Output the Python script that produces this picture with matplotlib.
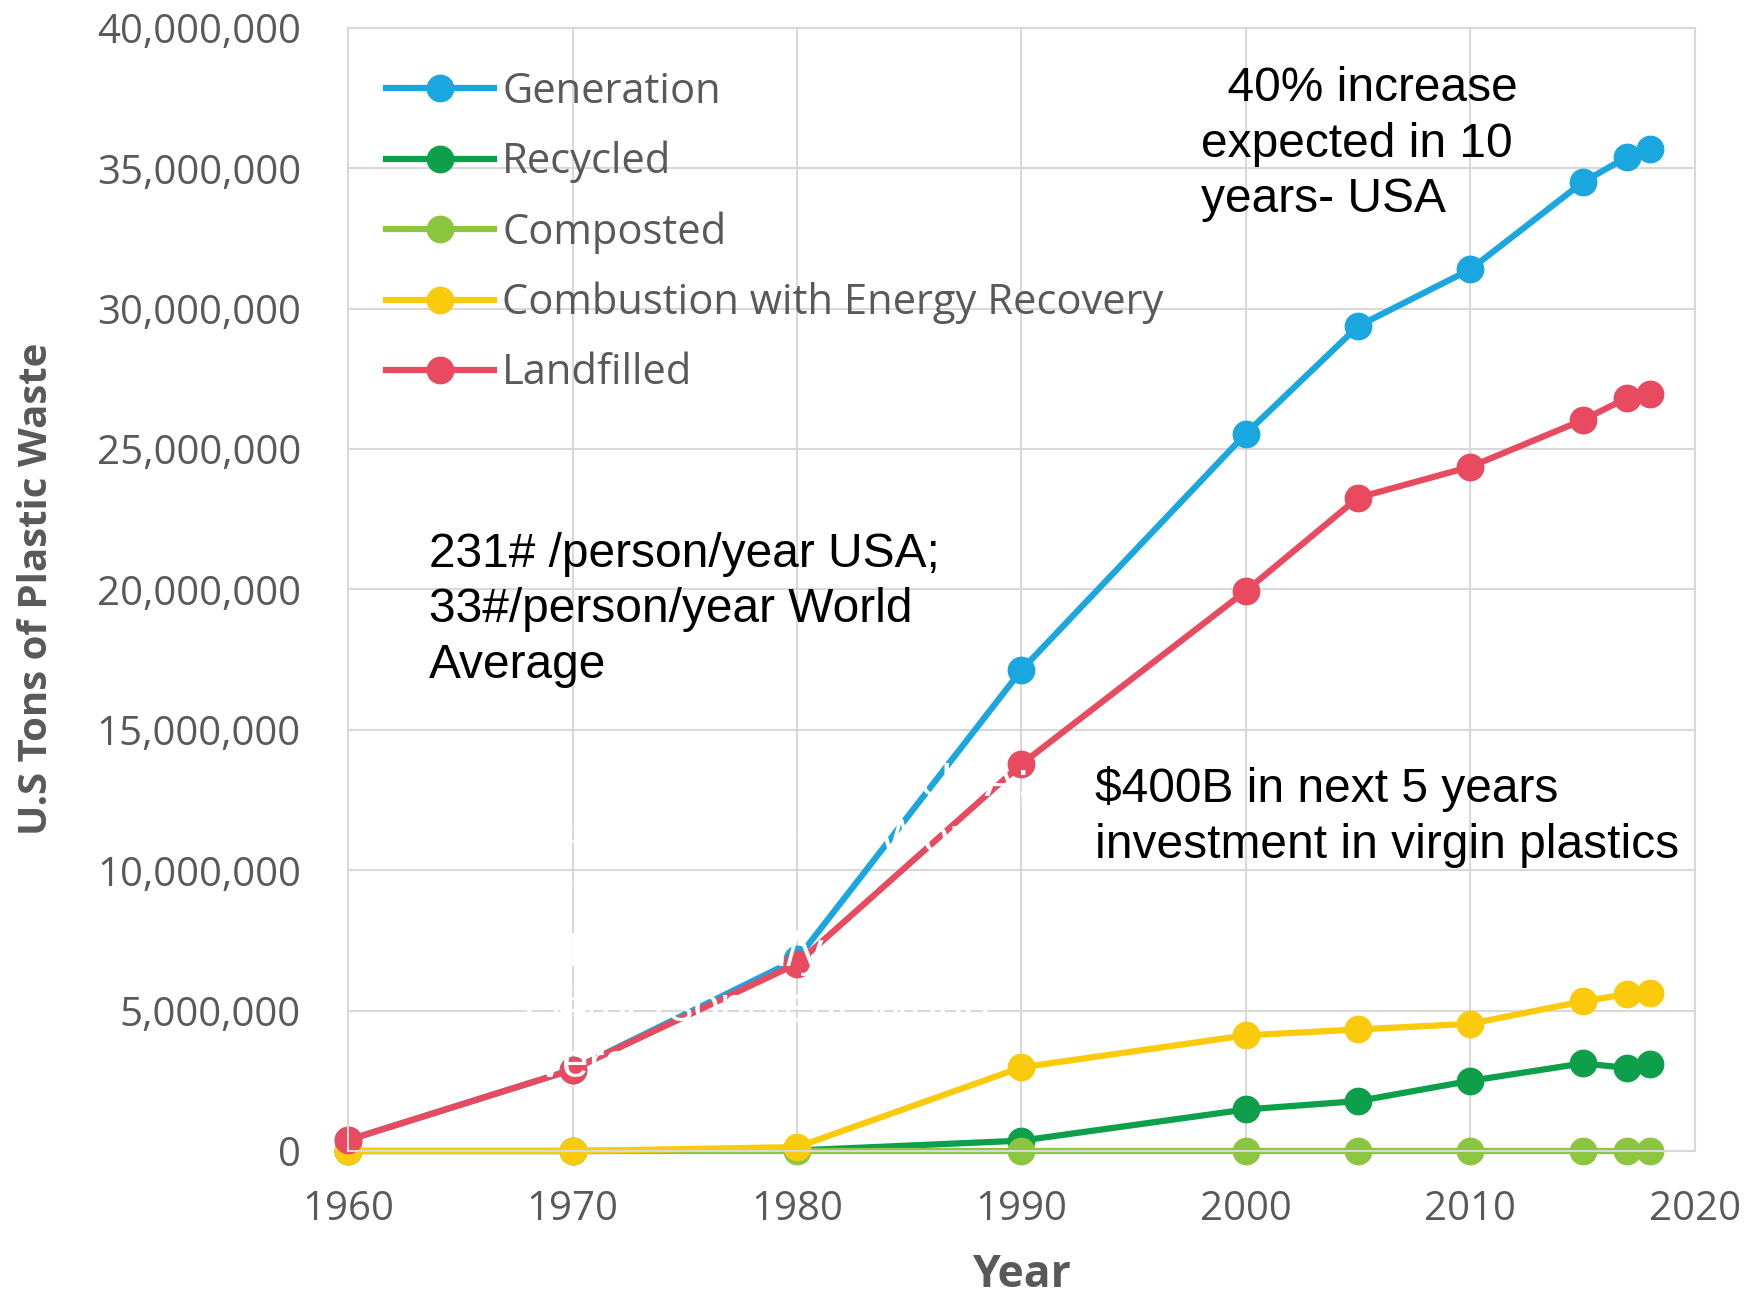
import matplotlib.pyplot as plt
from matplotlib.ticker import FuncFormatter

# EPA plastics data (tons)
years = [1960, 1970, 1980, 1990, 2000, 2005, 2010, 2015, 2017, 2018]
generation = [390000, 2900000, 6830000, 17130000, 25550000, 29380000, 31400000, 34500000, 35410000, 35680000]
recycled = [0, 0, 20000, 370000, 1480000, 1780000, 2500000, 3120000, 2960000, 3090000]
composted = [0, 0, 0, 0, 0, 0, 0, 0, 0, 0]
combustion = [0, 0, 140000, 2980000, 4120000, 4330000, 4530000, 5330000, 5590000, 5620000]
landfilled = [390000, 2900000, 6670000, 13780000, 19950000, 23270000, 24370000, 26030000, 26830000, 26970000]

labels = ["Generation", "Recycled", "Composted", "Combustion with Energy Recovery", "Landfilled"]
colors = ["#1AA7DF", "#0E9F4B", "#8CC63F", "#FACB0C", "#E84A5F"]

note_usa = "231# /person/year USA;\n33#/person/year World\nAverage"
note_growth = "  40% increase\nexpected in 10\nyears- USA"
note_invest = "$400B in next 5 years\ninvestment in virgin plastics"

gray = "#595959"
tick_font = "Open Sans"

fig = plt.figure(figsize=(17.49, 13), dpi=100)
ax = fig.add_axes([0.199, 0.1146, 0.770, 0.8639])

series = [generation, recycled, composted, combustion, landfilled]
for vals, lab, col in zip(series, labels, colors):
    ax.plot(years, vals, color=col, lw=4.5, marker='o', markersize=19, label=lab,
            zorder=2, clip_on=False)

ax.set_xlim(1960, 2020)
ax.set_ylim(0, 40000000)
ax.set_xticks(range(1960, 2021, 10))
ax.set_yticks(range(0, 40000001, 5000000))
ax.yaxis.set_major_formatter(FuncFormatter(lambda v, p: f"{int(v):,}"))
ax.grid(True, color="#D9D9D9", lw=1.5, zorder=0)
ax.set_axisbelow(True)
for s in ax.spines.values():
    s.set_color("#D9D9D9")
    s.set_linewidth(1.5)
ax.tick_params(length=0, labelsize=29, labelcolor=gray)
ax.tick_params(axis='y', pad=34)
ax.tick_params(axis='x', pad=28)
for t in ax.get_xticklabels() + ax.get_yticklabels():
    t.set_fontfamily(tick_font)

ax.set_xlabel("Year", fontsize=32, fontweight='bold', color=gray, family=tick_font, labelpad=16)
fig.text(0.021, 0.547, "U.S Tons of Plastic Waste", rotation=90, fontsize=29, fontweight='bold',
         color=gray, family=tick_font, ha='center', va='center')

leg = ax.legend(loc='upper left', bbox_to_anchor=(0.0, 0.995), frameon=False,
                prop={'family': tick_font, 'size': 30}, handlelength=2.6, handletextpad=0.2,
                labelspacing=0.67)
for t in leg.get_texts():
    t.set_color(gray)

txt = dict(family="Liberation Sans", fontsize=34.5, color="black", va='center', ha='left',
           linespacing=1.3)
ax.text(1963.6, 19270000, note_usa, **txt)
ax.text(1998.0, 35860000, note_growth, **txt)
ax.text(1993.3, 11900000, note_invest, **txt)

# stray white copies of the note, left over in the original image
ghost = dict(txt, color="white", zorder=5)
ax.text(1967.1, 5060000, note_usa, **ghost)
ax.text(1967.6, 11100000, note_usa, **ghost)

fig.savefig("out.png", dpi=100)
